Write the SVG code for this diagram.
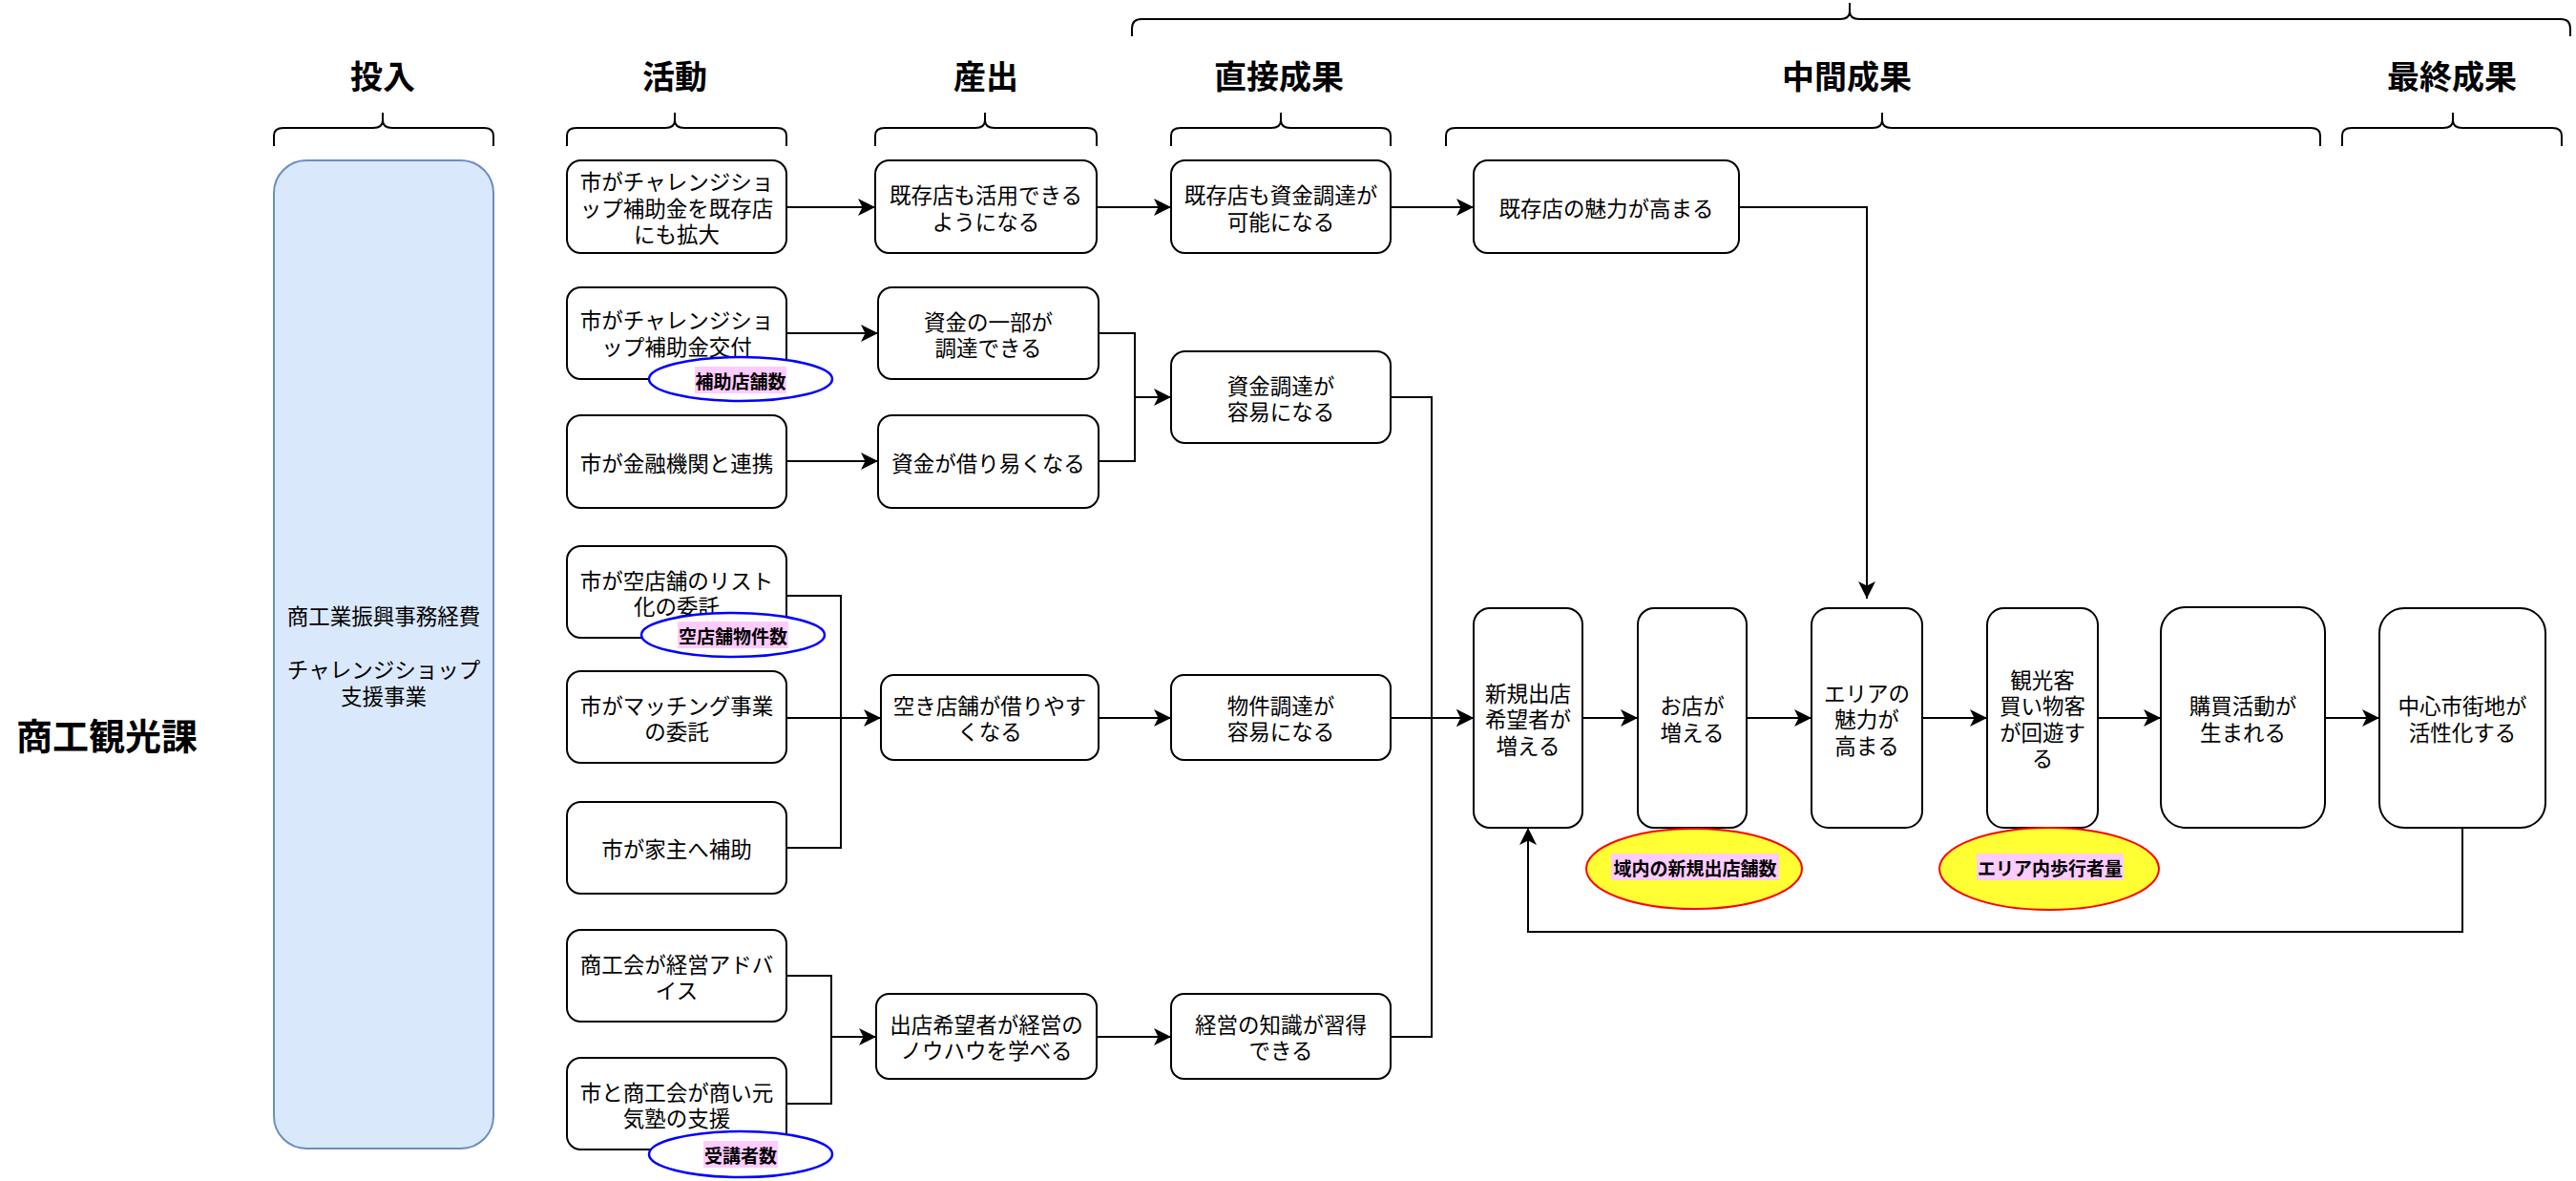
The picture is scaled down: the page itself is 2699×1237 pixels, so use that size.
<svg xmlns="http://www.w3.org/2000/svg" width="2699" height="1237" viewBox="0 0 2699 1237">
<style>
text{font-family:"Noto Sans CJK JP","Noto Sans",sans-serif;fill:#000;text-anchor:middle;dominant-baseline:central}
.t{font-size:22.5px}
.h{font-size:34px;font-weight:bold}
.k{font-size:19px;font-weight:bold}
.n{fill:#fff;stroke:#000;stroke-width:2}
.br{fill:none;stroke:#000;stroke-width:2}
.c{fill:none;stroke:#000;stroke-width:2}
.ca{fill:none;stroke:#000;stroke-width:2;marker-end:url(#ah)}
.eb{fill:#fff;stroke:#0000ff;stroke-width:2.5}
.ey{fill:#ffff33;stroke:#ff0000;stroke-width:2}
.hl{fill:#ffccff}
</style>
<defs>
<marker id="ah" markerUnits="userSpaceOnUse" markerWidth="18" markerHeight="18" viewBox="0 0 16 16" refX="16" refY="8" orient="auto">
<path d="M0,0 L16,8 L0,16 L4,8 Z" fill="#000"/>
</marker>
</defs>
<rect width="2699" height="1237" fill="#fff"/>

<g id="headers">
<text class="h" x="401" y="78">投入</text>
<text class="h" x="707" y="78">活動</text>
<text class="h" x="1033" y="78">産出</text>
<text class="h" x="1340" y="78">直接成果</text>
<text class="h" x="1935" y="78">中間成果</text>
<text class="h" x="2569" y="78">最終成果</text>
<text x="112" y="768" style="font-size:38px;font-weight:bold">商工観光課</text>
</g>

<g id="braces">
<path class="br" d="M287,153 V142 Q287,134 297,134 H391 Q401,134 401,126 V118 M401,126 Q401,134 411,134 H507 Q517,134 517,142 V153"/>
<path class="br" d="M594,153 V142 Q594,134 604,134 H697 Q707,134 707,126 V118 M707,126 Q707,134 717,134 H814 Q824,134 824,142 V153"/>
<path class="br" d="M917,153 V142 Q917,134 927,134 H1022 Q1032,134 1032,126 V118 M1032,126 Q1032,134 1042,134 H1139 Q1149,134 1149,142 V153"/>
<path class="br" d="M1227,153 V142 Q1227,134 1237,134 H1332 Q1342,134 1342,126 V118 M1342,126 Q1342,134 1352,134 H1447 Q1457,134 1457,142 V153"/>
<path class="br" d="M1515,153 V142 Q1515,134 1525,134 H1962 Q1972,134 1972,126 V118 M1972,126 Q1972,134 1982,134 H2421 Q2431,134 2431,142 V153"/>
<path class="br" d="M2454,153 V142 Q2454,134 2464,134 H2560 Q2570,134 2570,126 V118 M2570,126 Q2570,134 2580,134 H2674 Q2684,134 2684,142 V153"/>
<path class="br" d="M1186,38 V30 Q1186,20 1196,20 H1928 Q1938,20 1938,12 V3 M1938,12 Q1938,20 1948,20 H2683 Q2693,20 2693,30 V38"/>
</g>

<g id="connectors">
<path class="ca" d="M824,217 H917"/>
<path class="ca" d="M1149,217 H1227"/>
<path class="ca" d="M1457,217 H1544"/>
<path class="ca" d="M1822,217 H1956 V627"/>
<path class="ca" d="M824,349 H920"/>
<path class="ca" d="M824,483 H920"/>
<path class="ca" d="M1151,349 H1189 V416 H1227"/>
<path class="c" d="M1151,483 H1189 V416"/>
<path class="c" d="M824,624 H881 V888 H824"/>
<path class="ca" d="M824,752 H923"/>
<path class="ca" d="M1151,752 H1227"/>
<path class="c" d="M824,1022 H871 V1156 H824"/>
<path class="ca" d="M871,1086 H918"/>
<path class="ca" d="M1149,1086 H1227"/>
<path class="ca" d="M1457,416 H1500 V752 H1544"/>
<path class="ca" d="M1457,752 H1544"/>
<path class="c" d="M1457,1086 H1500 V752"/>
<path class="ca" d="M1658,752 H1716"/>
<path class="ca" d="M1830,752 H1898"/>
<path class="ca" d="M2014,752 H2082"/>
<path class="ca" d="M2198,752 H2264"/>
<path class="ca" d="M2436,752 H2493"/>
<path class="ca" d="M2580,867 V976 H1601 V867"/>
</g>

<g id="input">
<rect x="287" y="168" width="230" height="1035" rx="34" fill="#dae8fc" stroke="#6c8ebf" stroke-width="2"/>
<text class="t" x="402"><tspan x="402" y="644">商工業振興事務経費</tspan><tspan x="402" y="700">チャレンジショップ</tspan><tspan x="402" y="727.5">支援事業</tspan></text>
</g>

<g id="a1"><rect class="n" x="594" y="168" width="230" height="97" rx="14.5"/>
<text class="t"><tspan x="709" y="189">市がチャレンジショ</tspan><tspan x="709" y="216.5">ップ補助金を既存店</tspan><tspan x="709" y="244">にも拡大</tspan></text></g>
<g id="a2"><rect class="n" x="594" y="301" width="230" height="96" rx="14.5"/>
<text class="t"><tspan x="709" y="334">市がチャレンジショ</tspan><tspan x="709" y="361.5">ップ補助金交付</tspan></text></g>
<g id="a3"><rect class="n" x="594" y="435" width="230" height="97" rx="14.5"/>
<text class="t" x="709" y="483.5">市が金融機関と連携</text></g>
<g id="a4"><rect class="n" x="594" y="572" width="230" height="96" rx="14.5"/>
<text class="t"><tspan x="709" y="606.5">市が空店舗のリスト</tspan><tspan x="709" y="634">化の委託</tspan></text></g>
<g id="a5"><rect class="n" x="594" y="703" width="230" height="96" rx="14.5"/>
<text class="t"><tspan x="709" y="737.5">市がマッチング事業</tspan><tspan x="709" y="765">の委託</tspan></text></g>
<g id="a6"><rect class="n" x="594" y="840" width="230" height="96" rx="14.5"/>
<text class="t" x="709" y="888">市が家主へ補助</text></g>
<g id="a7"><rect class="n" x="594" y="974" width="230" height="96" rx="14.5"/>
<text class="t"><tspan x="709" y="1008.5">商工会が経営アドバ</tspan><tspan x="709" y="1036">イス</tspan></text></g>
<g id="a8"><rect class="n" x="594" y="1108" width="230" height="96" rx="14.5"/>
<text class="t"><tspan x="709" y="1142.5">市と商工会が商い元</tspan><tspan x="709" y="1170">気塾の支援</tspan></text></g>

<g id="o1"><rect class="n" x="917" y="168" width="232" height="97" rx="14.5"/>
<text class="t"><tspan x="1033" y="203">既存店も活用できる</tspan><tspan x="1033" y="230.5">ようになる</tspan></text></g>
<g id="o2"><rect class="n" x="920" y="301" width="231" height="96" rx="14.5"/>
<text class="t"><tspan x="1035.5" y="335.5">資金の一部が</tspan><tspan x="1035.5" y="363">調達できる</tspan></text></g>
<g id="o3"><rect class="n" x="920" y="435" width="231" height="97" rx="14.5"/>
<text class="t" x="1035.5" y="483.5">資金が借り易くなる</text></g>
<g id="o4"><rect class="n" x="923" y="707" width="228" height="89" rx="13.5"/>
<text class="t"><tspan x="1037" y="737.5">空き店舗が借りやす</tspan><tspan x="1037" y="765">くなる</tspan></text></g>
<g id="o5"><rect class="n" x="918" y="1041" width="231" height="89" rx="13.5"/>
<text class="t"><tspan x="1033.5" y="1071.5">出店希望者が経営の</tspan><tspan x="1033.5" y="1099">ノウハウを学べる</tspan></text></g>

<g id="d1"><rect class="n" x="1227" y="168" width="230" height="97" rx="14.5"/>
<text class="t"><tspan x="1342" y="203">既存店も資金調達が</tspan><tspan x="1342" y="230.5">可能になる</tspan></text></g>
<g id="d2"><rect class="n" x="1227" y="368" width="230" height="96" rx="14.5"/>
<text class="t"><tspan x="1342" y="402.5">資金調達が</tspan><tspan x="1342" y="430">容易になる</tspan></text></g>
<g id="d3"><rect class="n" x="1227" y="707" width="230" height="89" rx="13.5"/>
<text class="t"><tspan x="1342" y="737.5">物件調達が</tspan><tspan x="1342" y="765">容易になる</tspan></text></g>
<g id="d4"><rect class="n" x="1227" y="1041" width="230" height="89" rx="13.5"/>
<text class="t"><tspan x="1342" y="1071.5">経営の知識が習得</tspan><tspan x="1342" y="1099">できる</tspan></text></g>

<g id="m1"><rect class="n" x="1544" y="168" width="278" height="97" rx="14.5"/>
<text class="t" x="1683" y="216.5">既存店の魅力が高まる</text></g>
<g id="m2"><rect class="n" x="1544" y="637" width="114" height="230" rx="17"/>
<text class="t"><tspan x="1601" y="724.5">新規出店</tspan><tspan x="1601" y="752">希望者が</tspan><tspan x="1601" y="779.5">増える</tspan></text></g>
<g id="m3"><rect class="n" x="1716" y="637" width="114" height="230" rx="17"/>
<text class="t"><tspan x="1773" y="738">お店が</tspan><tspan x="1773" y="765.5">増える</tspan></text></g>
<g id="m4"><rect class="n" x="1898" y="637" width="116" height="230" rx="17.5"/>
<text class="t"><tspan x="1956" y="724.5">エリアの</tspan><tspan x="1956" y="752">魅力が</tspan><tspan x="1956" y="779.5">高まる</tspan></text></g>
<g id="m5"><rect class="n" x="2082" y="637" width="116" height="230" rx="17.5"/>
<text class="t"><tspan x="2140" y="710.5">観光客</tspan><tspan x="2140" y="738">買い物客</tspan><tspan x="2140" y="765.5">が回遊す</tspan><tspan x="2140" y="793">る</tspan></text></g>
<g id="m6"><rect class="n" x="2264" y="636" width="172" height="231" rx="26"/>
<text class="t"><tspan x="2350" y="738">購買活動が</tspan><tspan x="2350" y="765.5">生まれる</tspan></text></g>
<g id="f1"><rect class="n" x="2493" y="637" width="174" height="230" rx="26"/>
<text class="t"><tspan x="2580" y="738">中心市街地が</tspan><tspan x="2580" y="765.5">活性化する</tspan></text></g>

<g id="k1"><ellipse class="eb" cx="776" cy="397" rx="96" ry="23"/>
<rect class="hl" x="728" y="384" width="96" height="28"/>
<text class="k" x="776" y="398">補助店舗数</text></g>
<g id="k2"><ellipse class="eb" cx="768" cy="665" rx="96" ry="23"/>
<rect class="hl" x="710" y="651" width="116" height="28"/>
<text class="k" x="768" y="665">空店舗物件数</text></g>
<g id="k3"><ellipse class="eb" cx="776" cy="1209" rx="96" ry="24"/>
<rect class="hl" x="737" y="1195" width="78" height="28"/>
<text class="k" x="776" y="1209">受講者数</text></g>
<g id="k4"><ellipse class="ey" cx="1775" cy="910" rx="113" ry="42"/>
<rect class="hl" x="1688" y="894" width="176" height="28"/>
<text class="k" x="1776" y="908">域内の新規出店舗数</text></g>
<g id="k5"><ellipse class="ey" cx="2147" cy="910" rx="115" ry="43"/>
<rect class="hl" x="2071" y="894" width="154" height="28"/>
<text class="k" x="2148" y="908">エリア内歩行者量</text></g>
</svg>
